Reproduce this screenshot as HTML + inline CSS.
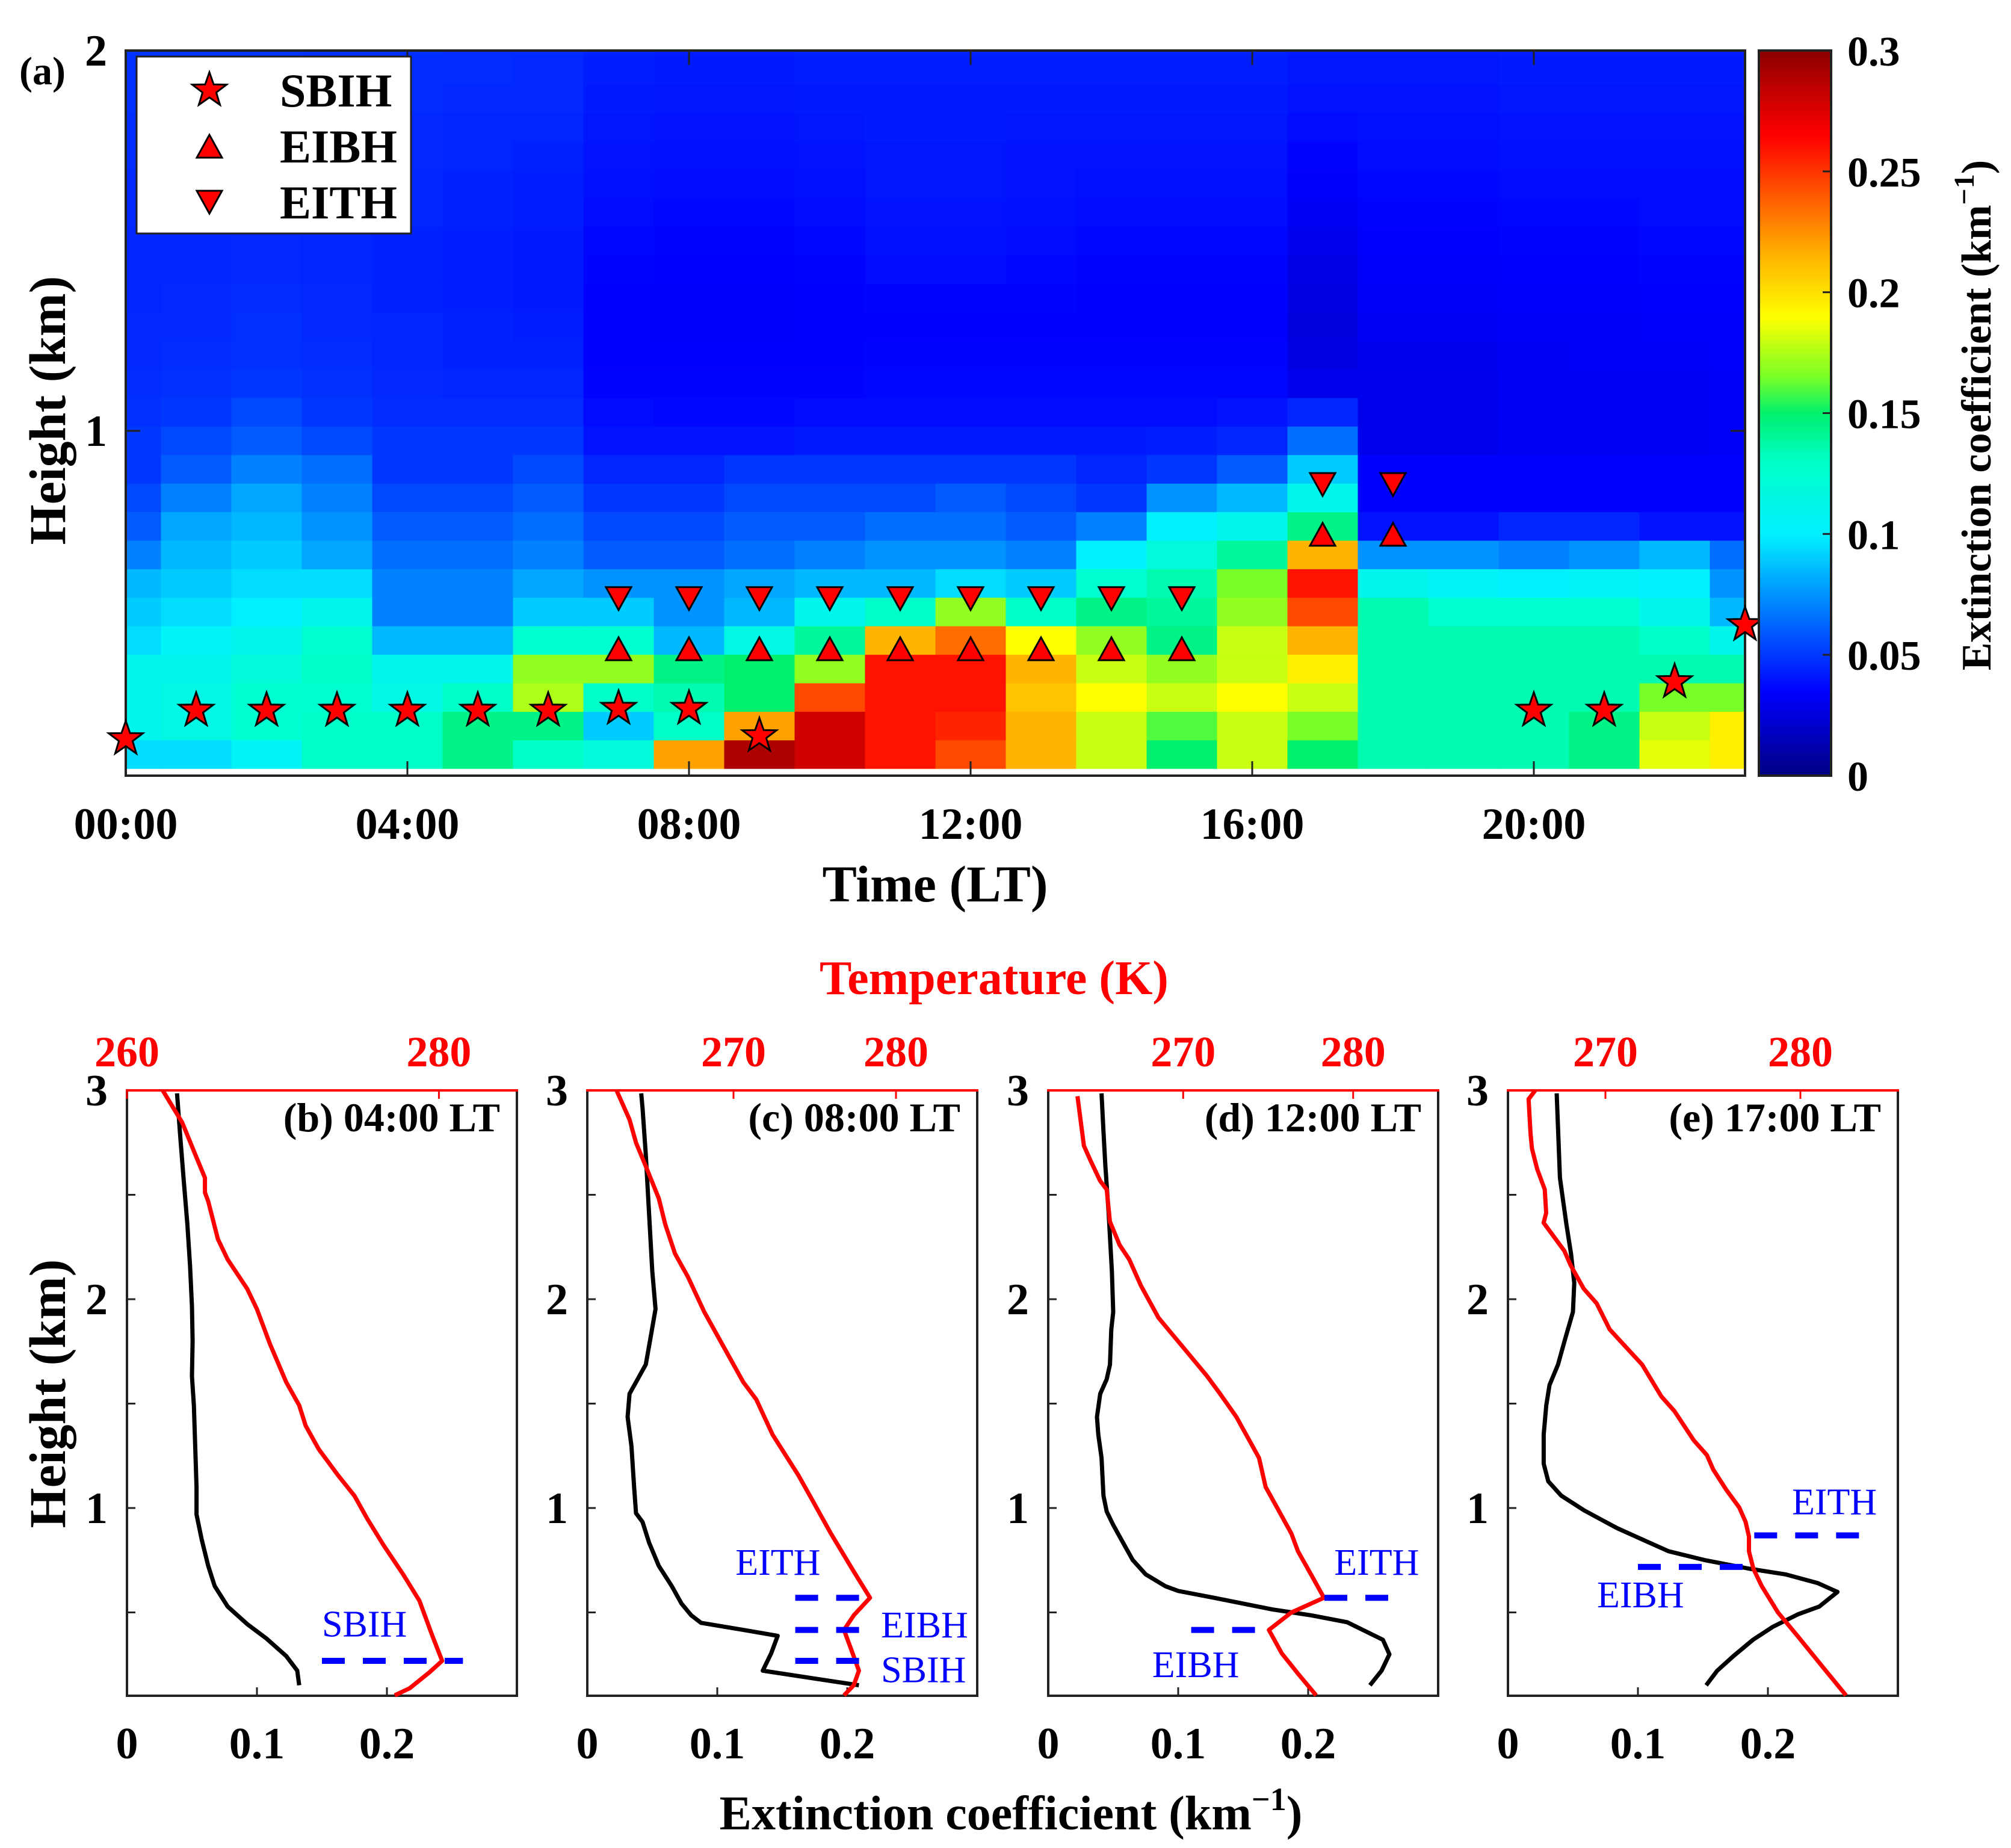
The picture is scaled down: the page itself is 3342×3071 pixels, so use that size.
<!DOCTYPE html>
<html><head><meta charset="utf-8"><style>
html,body{margin:0;padding:0;background:#fff;}
svg{display:block;font-family:"Liberation Serif",serif;font-weight:bold;}
</style></head><body>
<svg id="fig" xmlns="http://www.w3.org/2000/svg" width="3342" height="3071" viewBox="0 0 3342 3071">
<rect width="3342" height="3071" fill="#fff"/>
<g id="heat"></g>
<g id="panels"></g>
</svg>
<script>
// ---------- Panel (a) data ----------
const hours = [0,1,2,3,4,5,6,7,8,9,10,11,12,13,14,15,16,17,18,19,20,21,22,23];
const rowHeights = [0.15,0.225,0.3,0.375,0.45,0.525,0.6,0.675,0.75,0.825,0.9,0.975,1.05,1.125,1.2,1.275,1.35,1.425,1.5,1.575,1.65,1.725,1.8,1.875,1.95,2.025];
const ext = [
[0.095,0.095,0.105,0.13,0.13,0.145,0.13,0.12,0.22,0.29,0.28,0.26,0.245,0.215,0.18,0.15,0.18,0.15,0.135,0.135,0.135,0.145,0.185,0.195],
[0.11,0.115,0.125,0.13,0.13,0.145,0.145,0.09,0.13,0.22,0.28,0.26,0.255,0.215,0.18,0.16,0.18,0.165,0.135,0.135,0.135,0.145,0.18,0.195],
[0.11,0.115,0.125,0.125,0.115,0.13,0.175,0.13,0.135,0.15,0.245,0.26,0.26,0.21,0.19,0.18,0.19,0.18,0.135,0.135,0.135,0.135,0.165,0.165],
[0.11,0.11,0.12,0.13,0.11,0.11,0.17,0.17,0.145,0.15,0.17,0.26,0.26,0.215,0.18,0.17,0.18,0.195,0.135,0.135,0.135,0.135,0.135,0.135],
[0.095,0.105,0.11,0.125,0.085,0.085,0.125,0.125,0.085,0.115,0.14,0.215,0.235,0.19,0.17,0.145,0.18,0.215,0.135,0.135,0.135,0.135,0.13,0.11],
[0.09,0.095,0.1,0.11,0.07,0.07,0.09,0.09,0.075,0.085,0.11,0.13,0.17,0.13,0.145,0.14,0.17,0.245,0.135,0.125,0.125,0.125,0.11,0.085],
[0.085,0.09,0.095,0.095,0.07,0.07,0.08,0.075,0.075,0.08,0.085,0.085,0.095,0.09,0.125,0.135,0.165,0.26,0.11,0.105,0.1,0.105,0.1,0.075],
[0.07,0.085,0.09,0.08,0.065,0.065,0.07,0.06,0.06,0.065,0.07,0.075,0.075,0.07,0.1,0.12,0.14,0.215,0.075,0.075,0.07,0.075,0.085,0.065],
[0.06,0.08,0.085,0.075,0.06,0.06,0.065,0.055,0.055,0.06,0.06,0.065,0.065,0.06,0.07,0.1,0.11,0.145,0.04,0.04,0.045,0.045,0.04,0.04],
[0.055,0.07,0.08,0.07,0.055,0.055,0.06,0.05,0.05,0.055,0.055,0.055,0.06,0.055,0.05,0.075,0.085,0.11,0.035,0.035,0.035,0.035,0.035,0.035],
[0.05,0.06,0.07,0.065,0.05,0.05,0.055,0.045,0.045,0.05,0.05,0.05,0.05,0.05,0.045,0.05,0.06,0.09,0.035,0.035,0.035,0.035,0.035,0.035],
[0.05,0.055,0.06,0.055,0.05,0.05,0.05,0.04,0.04,0.04,0.042,0.042,0.042,0.042,0.042,0.043,0.045,0.065,0.03,0.03,0.032,0.032,0.032,0.033],
[0.048,0.05,0.055,0.05,0.047,0.047,0.047,0.038,0.037,0.037,0.038,0.038,0.038,0.038,0.038,0.038,0.04,0.045,0.03,0.03,0.032,0.032,0.032,0.033],
[0.047,0.048,0.05,0.048,0.046,0.045,0.045,0.036,0.036,0.036,0.036,0.037,0.037,0.037,0.037,0.037,0.037,0.03,0.03,0.03,0.032,0.032,0.032,0.033],
[0.046,0.047,0.048,0.047,0.045,0.044,0.044,0.035,0.035,0.035,0.035,0.036,0.036,0.036,0.036,0.036,0.036,0.027,0.031,0.031,0.032,0.033,0.033,0.034],
[0.046,0.046,0.048,0.046,0.045,0.044,0.043,0.035,0.034,0.034,0.035,0.035,0.035,0.035,0.035,0.035,0.035,0.026,0.032,0.032,0.033,0.033,0.034,0.034],
[0.045,0.046,0.047,0.046,0.044,0.043,0.042,0.035,0.034,0.034,0.035,0.036,0.036,0.036,0.035,0.035,0.035,0.027,0.033,0.033,0.034,0.034,0.035,0.035],
[0.045,0.045,0.046,0.045,0.044,0.043,0.042,0.036,0.035,0.035,0.036,0.038,0.038,0.037,0.036,0.036,0.036,0.028,0.034,0.034,0.035,0.035,0.036,0.036],
[0.045,0.045,0.046,0.045,0.044,0.043,0.042,0.037,0.036,0.036,0.037,0.039,0.039,0.038,0.037,0.037,0.037,0.03,0.035,0.035,0.036,0.036,0.037,0.037],
[0.046,0.046,0.046,0.045,0.045,0.044,0.043,0.038,0.037,0.037,0.038,0.04,0.04,0.039,0.038,0.038,0.038,0.032,0.036,0.036,0.037,0.037,0.038,0.038],
[0.046,0.046,0.047,0.046,0.045,0.044,0.043,0.039,0.038,0.038,0.039,0.041,0.041,0.04,0.039,0.039,0.039,0.034,0.037,0.037,0.038,0.038,0.038,0.038],
[0.047,0.047,0.047,0.046,0.046,0.045,0.044,0.04,0.039,0.039,0.04,0.041,0.041,0.04,0.04,0.04,0.04,0.036,0.038,0.038,0.039,0.039,0.039,0.039],
[0.047,0.047,0.047,0.047,0.046,0.045,0.045,0.041,0.04,0.04,0.041,0.042,0.042,0.041,0.041,0.041,0.041,0.038,0.039,0.039,0.04,0.04,0.04,0.04],
[0.048,0.048,0.048,0.047,0.047,0.046,0.046,0.042,0.041,0.041,0.042,0.042,0.042,0.042,0.042,0.042,0.042,0.04,0.04,0.04,0.041,0.041,0.041,0.041],
[0.048,0.048,0.048,0.048,0.047,0.047,0.046,0.043,0.042,0.042,0.043,0.043,0.043,0.043,0.043,0.043,0.043,0.041,0.041,0.041,0.042,0.042,0.042,0.042],
[0.049,0.049,0.049,0.048,0.048,0.047,0.047,0.044,0.043,0.043,0.044,0.044,0.044,0.044,0.044,0.044,0.044,0.042,0.042,0.042,0.043,0.043,0.043,0.043]
];
const sbihHours = [0,1,2,3,4,5,6,7,8,9,20,21,22,23];
const sbihValues = [0.19,0.265,0.265,0.265,0.265,0.265,0.265,0.27,0.27,0.198,0.265,0.265,0.34,0.49];
const eibhHours = [7,8,9,10,11,12,13,14,15,17,18];
const eibhValues = [0.427,0.427,0.427,0.427,0.427,0.427,0.427,0.427,0.427,0.728,0.728];
const eithHours = [7,8,9,10,11,12,13,14,15,17,18];
const eithValues = [0.559,0.559,0.559,0.559,0.559,0.559,0.559,0.559,0.559,0.859,0.859];
const xTickHours = [0,4,8,12,16,20];
const xTickLabels = ["00:00","04:00","08:00","12:00","16:00","20:00"];
const yTickVals = [1,2];
const cbTicks = [0,0.05,0.1,0.15,0.2,0.25,0.3];
const cbTickLabels = ["0","0.05","0.1","0.15","0.2","0.25","0.3"];

// ---------- Profile panel data ----------
const panelLabels = ["(b) 04:00 LT","(c) 08:00 LT","(d) 12:00 LT","(e) 17:00 LT"];
const tempRanges = [[260,285],[261,285],[262.06,285],[265,285]];
const tempTicks = [[260,280],[270,280],[270,280],[270,280]];
const extB_h = [0.151,0.221,0.291,0.374,0.444,0.528,0.626,0.723,0.849,0.969,1.10,1.296,1.492,1.631,1.80,1.966,2.162,2.358,2.581,2.777,2.986];
const extB_v = [0.1325,0.131,0.1225,0.1075,0.0925,0.0775,0.0675,0.0625,0.0575,0.0535,0.0535,0.0525,0.0515,0.05,0.0505,0.05,0.0485,0.0465,0.0435,0.041,0.0385];
const tB_h = [0.103,0.137,0.212,0.268,0.388,0.556,0.682,0.821,0.947,1.059,1.156,1.282,1.394,1.492,1.603,1.785,1.953,2.05,2.19,2.288,2.469,2.511,2.581,2.693,2.846,3.0];
const tB_v = [277.17,278.13,279.38,280.21,279.58,278.75,277.71,276.46,275.42,274.58,273.54,272.29,271.46,271.04,270.21,269.17,268.33,267.71,266.46,265.83,265.21,265.0,265.0,264.38,263.54,262.29];
const extC_h = [0.151,0.221,0.304,0.388,0.416,0.45,0.486,0.542,0.626,0.723,0.835,0.933,0.975,1.101,1.296,1.436,1.547,1.603,1.687,1.827,1.953,2.134,2.413,2.693,2.916,2.986];
const extC_v = [0.209,0.135,0.1415,0.1465,0.12,0.0875,0.08,0.0725,0.065,0.055,0.0475,0.0425,0.0375,0.036,0.034,0.031,0.0325,0.0375,0.045,0.049,0.0525,0.05,0.0475,0.045,0.0425,0.0415];
const tC_h = [0.103,0.151,0.221,0.332,0.416,0.486,0.57,0.696,0.877,1.045,1.156,1.352,1.52,1.603,1.771,1.939,2.106,2.218,2.358,2.483,2.637,2.749,2.86,3.0];
const tC_v = [276.8,277.4,277.72,277.2,276.8,277.4,278.4,277.4,276.0,274.8,274.0,272.4,271.4,270.6,269.4,268.2,267.2,266.4,265.8,265.4,264.6,264.0,263.6,262.8];
const extD_h = [0.151,0.221,0.299,0.369,0.453,0.486,0.514,0.57,0.603,0.626,0.682,0.751,0.835,0.919,0.983,1.059,1.24,1.352,1.436,1.547,1.617,1.687,1.855,1.939,2.134,2.413,2.637,2.804,2.986];
const extD_v = [0.2475,0.2565,0.2625,0.2575,0.23,0.2025,0.1725,0.1275,0.1,0.09,0.075,0.065,0.0575,0.05,0.045,0.0425,0.041,0.0385,0.0375,0.04,0.045,0.0475,0.0485,0.05,0.049,0.0465,0.044,0.0425,0.041];
const tD_h = [0.103,0.207,0.304,0.416,0.5,0.57,0.682,0.793,0.877,0.989,1.101,1.24,1.324,1.436,1.547,1.631,1.743,1.855,1.911,2.064,2.19,2.26,2.372,2.525,2.567,2.665,2.735,2.972];
const tD_v = [277.82,276.75,275.8,275.04,276.37,278.28,277.52,276.75,276.37,275.61,274.85,274.46,273.89,273.13,272.17,271.41,270.27,269.12,268.55,267.52,266.83,266.26,265.69,265.5,265.11,264.54,264.16,263.78];
const extE_h = [0.151,0.221,0.291,0.369,0.43,0.492,0.528,0.598,0.64,0.682,0.709,0.751,0.793,0.835,0.905,0.989,1.059,1.128,1.212,1.352,1.492,1.589,1.687,1.799,1.939,2.078,2.218,2.358,2.469,2.581,2.986];
const extE_v = [0.1525,0.161,0.1735,0.1885,0.2035,0.2235,0.2395,0.2535,0.2385,0.2135,0.186,0.151,0.1235,0.1085,0.0835,0.0585,0.041,0.031,0.0275,0.0275,0.0295,0.032,0.0385,0.0435,0.05,0.051,0.0485,0.045,0.0425,0.04,0.0375];
const tE_h = [0.103,0.235,0.388,0.5,0.626,0.709,0.793,0.863,0.933,1.003,1.087,1.184,1.254,1.324,1.464,1.534,1.687,1.771,1.855,1.98,2.05,2.162,2.232,2.366,2.413,2.525,2.623,2.721,2.791,2.958,3.0];
const tE_v = [282.34,281.18,279.85,278.85,278.02,277.59,277.36,277.36,277.19,276.86,276.2,275.53,275.2,274.53,273.54,272.87,271.88,271.05,270.22,269.55,268.89,268.22,267.89,266.83,266.96,266.89,266.5,266.23,266.16,266.06,266.4];
const layerNames = [["SBIH"],["EITH","EIBH","SBIH"],["EITH","EIBH"],["EITH","EIBH"]];
const layerHeights = [[0.268],[0.57,0.416,0.268],[0.57,0.416],[0.869,0.718]];
const layerX0 = [[0.15],[0.16,0.16,0.16],[0.2125,0.11],[0.1895,0.1]];
const layerX1 = [[0.2585],[0.214,0.214,0.214],[0.2635,0.1675],[0.271,0.1885]];
const layerLabelX = [[0.15],[0.114,0.226,0.226],[0.22,0.08],[0.2185,0.0685]];
const layerLabelH = [[0.385],[0.68,0.38,0.165],[0.68,0.19],[0.97,0.525]];

const NS="http://www.w3.org/2000/svg";
function mk(tag, attrs, parent){const e=document.createElementNS(NS,tag);for(const k in attrs)e.setAttribute(k,attrs[k]);parent.appendChild(e);return e;}
const cmapStops=[[0,0,0,130],[0.035,0,0,255],[0.065,0,110,255],[0.1,0,240,255],[0.13,0,255,200],[0.15,0,240,110],[0.165,120,255,40],[0.19,255,255,0],[0.215,255,180,0],[0.24,255,90,0],[0.265,255,0,0],[0.3,140,0,0]];
function jet(v){v=Math.max(0,Math.min(0.3,v));for(let i=1;i<cmapStops.length;i++){const a=cmapStops[i-1],b=cmapStops[i];if(v<=b[0]){const f=(v-a[0])/(b[0]-a[0]);const c=k=>Math.round(a[k]+(b[k]-a[k])*f);return `rgb(${c(1)},${c(2)},${c(3)})`;}}return 'rgb(140,0,0)';}
function starPath(cx,cy,R){const r=R*0.4;let d="";for(let i=0;i<10;i++){const a=-Math.PI/2+i*Math.PI/5;const rr=i%2?r:R;d+=(i?"L":"M")+(cx+rr*Math.cos(a)).toFixed(1)+","+(cy+rr*Math.sin(a)).toFixed(1);}return d+"Z";}
function triPath(cx,cy,up){const w=21,h=19;return up?`M${cx-w},${cy+h}L${cx},${cy-h}L${cx+w},${cy+h}Z`:`M${cx-w},${cy-h}L${cx},${cy+h}L${cx+w},${cy-h}Z`;}

// ---------- Panel (a) ----------
const H=document.getElementById('heat');
const AX0=209, AX1=2900, AY0=84, AY1=1289;
const xA=t=>AX0+t*(AX1-AX0)/23;
const yA=h=>716-(h-1)*632;
const clip=mk('clipPath',{id:'clipA'},H);mk('rect',{x:AX0,y:AY0,width:AX1-AX0,height:AY1-AY0},clip);
const cells=mk('g',{'clip-path':'url(#clipA)'},H);


for(let r=0;r<rowHeights.length;r++){for(let c=0;c<hours.length;c++){
  const x0=xA(hours[c]-0.5),x1=xA(hours[c]+0.5),y0=yA(rowHeights[r]+0.0375),y1=yA(rowHeights[r]-0.0375);
  const el=mk('rect',{x:x0.toFixed(1),y:y0.toFixed(1),width:(x1-x0+0.8).toFixed(1),height:(y1-y0+0.8).toFixed(1),fill:jet(ext[r][c])},cells);
  
  
}}
const boxA=mk('rect',{x:AX0,y:AY0,width:AX1-AX0,height:AY1-AY0,fill:'none',stroke:'#222',"stroke-width":4},H);


xTickHours.forEach((t,i)=>{
  const x=xA(t);
  mk('line',{x1:x,y1:AY1,x2:x,y2:AY1-24,stroke:'#222',"stroke-width":3},H);
  mk('line',{x1:x,y1:AY0,x2:x,y2:AY0+24,stroke:'#222',"stroke-width":3},H);
  const tx=mk('text',{x:x,y:1394,"font-size":74,"text-anchor":"middle"},H);tx.textContent=xTickLabels[i];
  
  
});
yTickVals.forEach(v=>{
  const y=yA(v);
  mk('line',{x1:AX0,y1:y,x2:AX0+24,y2:y,stroke:'#222',"stroke-width":3},H);
  mk('line',{x1:AX1,y1:y,x2:AX1-24,y2:y,stroke:'#222',"stroke-width":3},H);
  const tx=mk('text',{x:178,y:y+25,"font-size":74,"text-anchor":"end"},H);tx.textContent=String(v);
  
  
});
let t;
t=mk('text',{x:32,y:140,"font-size":66},H);t.textContent="(a)";


t=mk('text',{x:1554,y:1498,"font-size":86,"text-anchor":"middle"},H);t.textContent="Time (LT)";


t=mk('text',{x:0,y:0,"font-size":86,"text-anchor":"middle",transform:"translate(108,682) rotate(-90)"},H);t.textContent="Height (km)";


const mg=mk('g',{},H);
sbihHours.forEach((hh,i)=>{const p=mk('path',{d:starPath(xA(hh),yA(sbihValues[i]),30),fill:'#f00',stroke:'#000',"stroke-width":3},mg);
  
  });
eibhHours.forEach((hh,i)=>{const p=mk('path',{d:triPath(xA(hh),yA(eibhValues[i]),true),fill:'#f00',stroke:'#000',"stroke-width":3},mg);
  
  });
eithHours.forEach((hh,i)=>{const p=mk('path',{d:triPath(xA(hh),yA(eithValues[i]),false),fill:'#f00',stroke:'#000',"stroke-width":3},mg);
  
  });
const lg=mk('g',{},H);


mk('rect',{x:227,y:94,width:456,height:294,fill:'#fff',stroke:'#222',"stroke-width":3},lg);
const legNames=["SBIH","EIBH","EITH"];
legNames.forEach((n,i)=>{
  const cy=150+i*93;
  const d=i==0?starPath(348,cy,30):triPath(348,cy,i==1);
  mk('path',{d:d,fill:'#f00',stroke:'#000',"stroke-width":3},lg);
  const tx=mk('text',{x:465,y:cy+27,"font-size":78},lg);tx.textContent=n;
  
  
});
const CB0=2923,CB1=3043;
const cbg=mk('g',{},H);


for(let i=0;i<300;i++){const v0=i*0.001;const y0=AY1-(v0+0.001)/0.3*(AY1-AY0);
  mk('rect',{x:CB0,y:y0.toFixed(2),width:CB1-CB0,height:((AY1-AY0)/300+0.8).toFixed(2),fill:jet(v0+0.0005)},cbg);}
mk('rect',{x:CB0,y:AY0,width:CB1-CB0,height:AY1-AY0,fill:'none',stroke:'#222',"stroke-width":4},cbg);
cbTicks.forEach((v,i)=>{const y=AY1-v/0.3*(AY1-AY0);
  mk('line',{x1:CB1,y1:y,x2:CB1-14,y2:y,stroke:'#222',"stroke-width":3},cbg);
  const tx=mk('text',{x:3070,y:y+25,"font-size":70},cbg);tx.textContent=cbTickLabels[i];
  
  });
t=mk('text',{x:0,y:0,"font-size":70,"text-anchor":"middle",transform:"translate(3308,690) rotate(-90)"},H);
t.innerHTML='Extinction coefficient  (km<tspan dy="-28" font-size="48">−1</tspan><tspan dy="28">)</tspan>';



// ---------- Profile panels ----------
const P=document.getElementById('panels');
const PX0=[211,976,1742,2506], PW=648, PY0=1812, PY1=2818;
const yP=h=>PY0+(3-h)*347;
const extH=[extB_h,extC_h,extD_h,extE_h], extV=[extB_v,extC_v,extD_v,extE_v];
const tH=[tB_h,tC_h,tD_h,tE_h], tV=[tB_v,tC_v,tD_v,tE_v];
for(let p=0;p<4;p++){
  const g=mk('g',{},P);
  
  
  const x0=PX0[p];
  const xE=v=>x0+v/0.3*PW;
  const tr=tempRanges[p];
  const xT=v=>x0+(v-tr[0])/(tr[1]-tr[0])*PW;
  mk('path',{d:`M${x0},${PY0}V${PY1}H${x0+PW}V${PY0}`,fill:'none',stroke:'#222',"stroke-width":4},g);
  mk('line',{x1:x0-2,y1:PY0,x2:x0+PW+2,y2:PY0,stroke:'#f00',"stroke-width":4},g);
  [0,0.1,0.2].forEach(v=>{const x=xE(v);mk('line',{x1:x,y1:PY1,x2:x,y2:PY1-14,stroke:'#222',"stroke-width":3},g);
    const tx=mk('text',{x:x,y:2922,"font-size":74,"text-anchor":"middle"},g);tx.textContent=v===0?"0":String(v);
    
    });
  [0.5,1,1.5,2,2.5].forEach(v=>{const y=yP(v);mk('line',{x1:x0,y1:y,x2:x0+14,y2:y,stroke:'#222',"stroke-width":3},g);});
  [1,2,3].forEach(v=>{const tx=mk('text',{x:x0-32,y:yP(v)+25,"font-size":74,"text-anchor":"end"},g);tx.textContent=String(v);
    
    });
  tempTicks[p].forEach(v=>{const x=xT(v);mk('line',{x1:x,y1:PY0,x2:x,y2:PY0+14,stroke:'#f00',"stroke-width":3},g);
    const tx=mk('text',{x:x,y:1772,"font-size":72,"text-anchor":"middle",fill:'#f00'},g);tx.textContent=String(v);
    
    });
  let d=extH[p].map((h,i)=>(i?"L":"M")+xE(extV[p][i]).toFixed(1)+","+yP(h).toFixed(1)).join("");
  const le=mk('path',{d:d,fill:'none',stroke:'#000',"stroke-width":7,"stroke-linejoin":"round"},g);
  
  
  d=tH[p].map((h,i)=>(i?"L":"M")+xT(tV[p][i]).toFixed(1)+","+yP(h).toFixed(1)).join("");
  const lt=mk('path',{d:d,fill:'none',stroke:'#f00',"stroke-width":7,"stroke-linejoin":"round"},g);
  
  
  layerNames[p].forEach((n,i)=>{
    const y=yP(layerHeights[p][i]);
    const ln=mk('line',{x1:xE(layerX0[p][i]),y1:y,x2:xE(layerX1[p][i]),y2:y,stroke:'#00f',"stroke-width":10,"stroke-dasharray":"38 30"},g);
    
    
    const tx=mk('text',{x:xE(layerLabelX[p][i]),y:yP(layerLabelH[p][i]),"font-size":62,"font-weight":"normal",fill:'#00f'},g);tx.textContent=n;
    
    
  });
  const tl=mk('text',{x:x0+PW-28,y:1880,"font-size":68,"text-anchor":"end"},g);tl.textContent=panelLabels[p];
  
  
}
t=mk('text',{x:1652,y:1652,"font-size":80,"text-anchor":"middle",fill:'#f00'},P);t.textContent="Temperature (K)";


t=mk('text',{x:1680,y:3040,"font-size":80,"text-anchor":"middle"},P);
t.innerHTML='Extinction coefficient  (km<tspan dy="-32" font-size="54">−1</tspan><tspan dy="32">)</tspan>';


t=mk('text',{x:0,y:0,"font-size":86,"text-anchor":"middle",transform:"translate(108,2316) rotate(-90)"},P);t.textContent="Height (km)";


</script>
</body></html>
